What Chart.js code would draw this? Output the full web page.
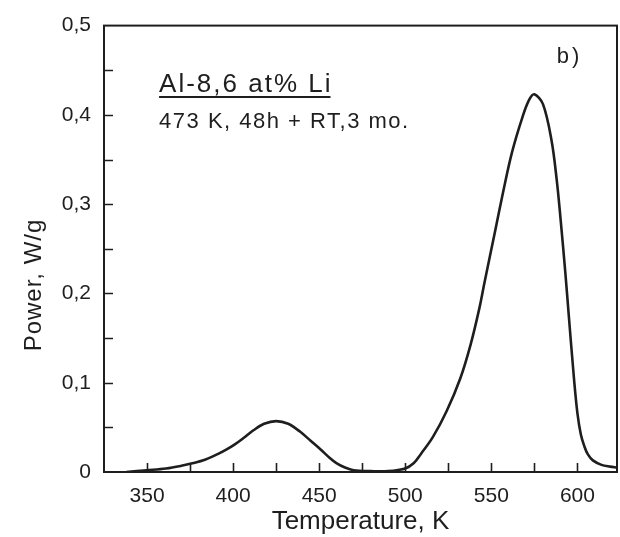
<!DOCTYPE html>
<html>
<head>
<meta charset="utf-8">
<title>Power vs temperature</title>
<script src="https://cdn.jsdelivr.net/npm/chart.js@4.4.1/dist/chart.umd.min.js"></script>
<style>
  html, body { margin: 0; padding: 0; background: #fff; }
  #wrap { width: 620px; height: 537px; }
</style>
</head>
<body>
<div id="wrap"><canvas id="dsc" width="620" height="537"></canvas></div>
<script>
/* ---------- data ---------- */
const temps = [338, 350, 361, 370, 377, 384, 391, 396, 401, 406, 412, 418, 425, 432, 439, 445, 451, 456, 460, 465,
               470, 480, 490, 500, 505, 509, 516, 524, 532, 538, 543, 546, 552, 557, 562, 568, 572, 575, 580, 585,
               588, 590, 593, 595, 598, 600, 602, 604, 606, 609, 614, 619, 623];
const power = [0.000, 0.002, 0.004, 0.007, 0.010, 0.014, 0.020, 0.025, 0.031, 0.038, 0.047, 0.054, 0.057, 0.054, 0.045, 0.035, 0.025, 0.016, 0.010, 0.005,
               0.002, 0.001, 0.001, 0.004, 0.010, 0.020, 0.039, 0.068, 0.105, 0.143, 0.183, 0.212, 0.268, 0.315, 0.358, 0.397, 0.417, 0.423, 0.412, 0.371,
               0.327, 0.288, 0.223, 0.175, 0.105, 0.066, 0.042, 0.029, 0.020, 0.013, 0.008, 0.006, 0.005];

const xRange    = [325, 623];
const yRange    = [0, 0.5];
const xTicks    = [350, 375, 400, 425, 450, 475, 500, 525, 550, 575, 600];   // labelled every 50 K
const yTicks    = [0, 0.05, 0.1, 0.15, 0.2, 0.25, 0.3, 0.35, 0.4, 0.45, 0.5]; // labelled every 0.1
const xTitle    = 'Temperature, K';
const yTitle    = 'Power, W/g';
const alloyText = 'Al-8,6 at% Li';
const heatText  = '473 K, 48h + RT,3 mo.';
const panelText = 'b)';

const INK  = '#1e1e1e';
const FONT = '"Liberation Sans", Arial, sans-serif';

/* ---------- frame, inward ticks, labels ---------- */
const decor = {
  id: 'decor',
  afterDraw(chart) {
    const { ctx, chartArea: a, scales: { x, y } } = chart;
    ctx.save();
    ctx.strokeStyle = INK;
    ctx.lineWidth = 2;
    ctx.strokeRect(a.left, a.top, a.right - a.left, a.bottom - a.top);

    // tick marks pointing into the plot
    ctx.lineWidth = 1.6;
    ctx.beginPath();
    x.ticks.forEach(t => {
      if (t.value <= xRange[0] || t.value >= xRange[1]) return;
      const px = Math.round(x.getPixelForValue(t.value)) + 0.5;
      ctx.moveTo(px, a.bottom);
      ctx.lineTo(px, a.bottom - 9);
    });
    y.ticks.forEach(t => {
      if (t.value <= yRange[0] + 1e-9 || t.value >= yRange[1] - 1e-9) return;
      const py = Math.round(y.getPixelForValue(t.value)) + 0.5;
      ctx.moveTo(a.left, py);
      ctx.lineTo(a.left + 9, py);
    });
    ctx.stroke();

    // y axis title, sits a bit below centre
    ctx.fillStyle = INK;
    ctx.font = '24px ' + FONT;
    ctx.letterSpacing = '1px';
    ctx.textAlign = 'center';
    ctx.textBaseline = 'alphabetic';
    ctx.translate(41, 285);
    ctx.rotate(-Math.PI / 2);
    ctx.fillText(yTitle, 0, 0);
    ctx.setTransform(1, 0, 0, 1, 0, 0);

    // sample description
    ctx.textAlign = 'left';
    ctx.font = '26px ' + FONT;
    ctx.letterSpacing = '2px';
    const tx = x.getPixelForValue(357);
    ctx.fillText(alloyText, tx, 92);
    const w = ctx.measureText(alloyText).width;
    ctx.lineWidth = 1.8;
    ctx.beginPath();
    ctx.moveTo(tx, 97);
    ctx.lineTo(tx + w - 2, 97);
    ctx.stroke();

    ctx.font = '22px ' + FONT;
    ctx.letterSpacing = '1.5px';
    ctx.fillText(heatText, tx, 128);

    ctx.font = '22px ' + FONT;
    ctx.letterSpacing = '3px';
    ctx.fillText(panelText, x.getPixelForValue(588), 63);
    ctx.restore();
  }
};

function yLabel(v) {
  if (Math.abs(v * 10 - Math.round(v * 10)) > 1e-6) return '';
  if (Math.abs(v) < 1e-9) return '0';
  return v.toFixed(1).replace('.', ',');
}

new Chart(document.getElementById('dsc'), {
  type: 'line',
  data: {
    labels: temps,
    datasets: [{
      data: temps.map((t, i) => ({ x: t, y: power[i] })),
      borderColor: INK,
      borderWidth: 2.6,
      pointRadius: 0,
      fill: false,
      tension: 0.35
    }]
  },
  options: {
    responsive: false,
    animation: false,
    events: [],
    layout: { padding: { top: 25, right: 3, left: 0, bottom: 0 } },
    plugins: { legend: { display: false }, tooltip: { enabled: false } },
    scales: {
      x: {
        type: 'linear',
        min: xRange[0], max: xRange[1],
        afterBuildTicks: s => { s.ticks = xTicks.map(v => ({ value: v })); },
        grid: { display: false, drawTicks: false },
        border: { display: false },
        ticks: {
          autoSkip: false,
          maxRotation: 0,
          padding: 12,
          color: INK,
          font: { family: FONT, size: 21 },
          callback: v => (v % 50 === 0) ? String(v) : ''
        },
        title: {
          display: true,
          text: xTitle,
          color: INK,
          font: { family: FONT, size: 26 },
          padding: { top: 0, bottom: 0 }
        },
        afterFit: s => { s.height = 65; }
      },
      y: {
        min: yRange[0], max: yRange[1],
        afterBuildTicks: s => { s.ticks = yTicks.map(v => ({ value: v })); },
        grid: { display: false, drawTicks: false },
        border: { display: false },
        ticks: {
          autoSkip: false,
          padding: 13,
          color: INK,
          font: { family: FONT, size: 21 },
          callback: v => yLabel(v)
        },
        afterFit: s => { s.width = 104; }
      }
    }
  },
  plugins: [decor]
});
</script>
</body>
</html>
